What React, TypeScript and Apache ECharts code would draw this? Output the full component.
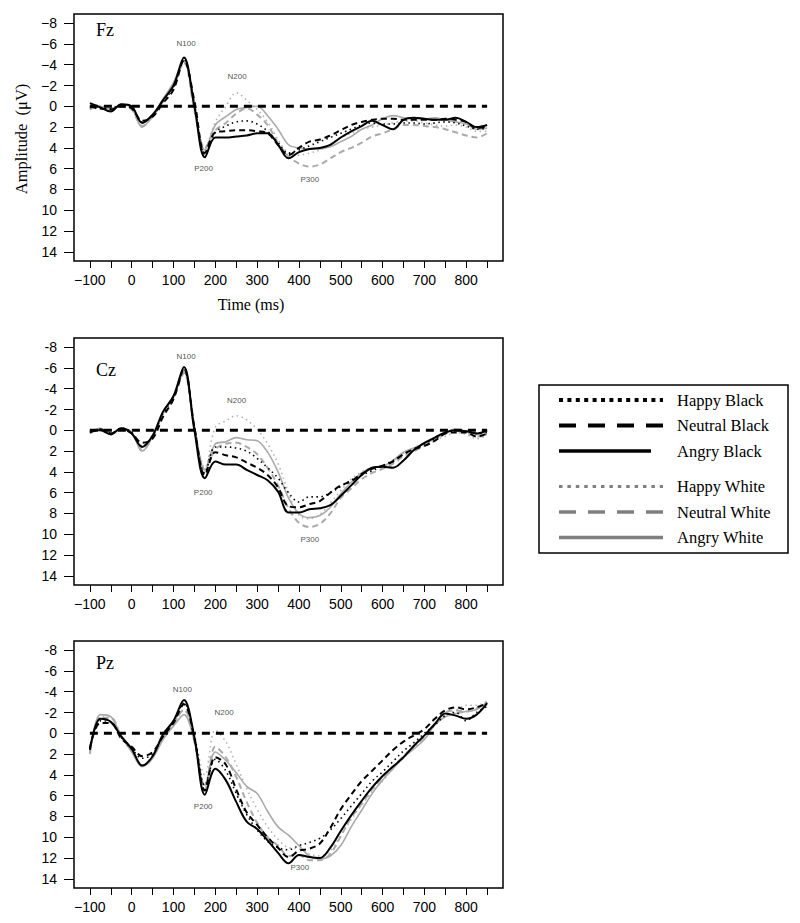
import React, { useEffect, useRef } from "react";
import * as echarts from "echarts";

const times = [-100, -75, -50, -25, 0, 25, 50, 75, 100, 125, 150, 175, 200, 225, 250, 275, 300, 325, 350, 375, 400, 425, 450, 475, 500, 525, 550, 575, 600, 625, 650, 675, 700, 725, 750, 775, 800, 825, 850];
const xTickValues = [-100, -50, 0, 50, 100, 150, 200, 250, 300, 350, 400, 450, 500, 550, 600, 650, 700, 750, 800, 850];
const xLabelValues = [-100, 0, 100, 200, 300, 400, 500, 600, 700, 800];
const yTickValues = [-8, -6, -4, -2, 0, 2, 4, 6, 8, 10, 12, 14];
const electrodes = ["Fz", "Cz", "Pz"];
const conditions = ["Happy Black", "Neutral Black", "Angry Black", "Happy White", "Neutral White", "Angry White"];

// Fz
const fzHappyBlack = [0.1, 0.2, 0.2, -0.1, 0.1, 1.5, 0.9, -0.5, -1.8, -4.5, -0.2, 4.6, 2.5, 1.9, 1.5, 1.4, 1.7, 2.4, 3.5, 4.5, 4.2, 3.8, 3.4, 3.0, 2.6, 2.2, 1.8, 1.6, 1.7, 1.7, 1.6, 1.6, 1.7, 1.6, 1.5, 1.6, 1.9, 2.2, 2.1];
const fzNeutralBlack = [0.0, 0.2, 0.3, 0.0, 0.2, 1.4, 1.0, -0.3, -1.6, -4.4, -0.5, 4.5, 2.5, 2.4, 2.3, 2.3, 2.4, 2.6, 3.7, 4.7, 4.0, 3.4, 3.2, 2.8, 2.3, 1.8, 1.5, 1.3, 1.2, 1.2, 1.3, 1.3, 1.3, 1.3, 1.2, 1.3, 1.5, 2.1, 1.9];
const fzAngryBlack = [-0.3, 0.1, 0.5, -0.2, 0.0, 1.6, 0.8, -0.6, -2.0, -4.7, 0.0, 4.9, 3.0, 3.0, 2.9, 2.8, 2.6, 2.6, 3.7, 5.0, 4.4, 4.1, 4.0, 3.7, 3.0, 2.4, 1.9, 1.4, 1.8, 2.2, 1.3, 1.1, 1.2, 1.3, 1.3, 1.1, 1.5, 2.0, 1.8];
const fzHappyWhite = [0.3, 0.0, 0.3, -0.1, 0.2, 2.0, 0.9, -0.6, -2.2, -4.3, 0.3, 4.0, 1.5, 0.0, -1.3, -0.6, 0.3, 1.5, 3.2, 4.5, 4.7, 4.5, 4.2, 3.6, 3.0, 2.6, 2.2, 2.0, 1.8, 1.6, 1.4, 1.4, 1.6, 1.8, 1.9, 1.8, 2.0, 2.4, 2.4];
const fzNeutralWhite = [0.2, 0.1, 0.2, 0.0, 0.3, 1.9, 1.0, -0.5, -2.1, -4.2, 0.4, 4.0, 2.3, 1.6, 0.7, 0.2, 0.8, 1.8, 3.5, 4.8, 5.5, 5.8, 5.6, 5.0, 4.4, 4.0, 3.5, 2.9, 2.6, 2.2, 1.8, 1.8, 1.9, 2.0, 2.2, 2.5, 2.8, 3.0, 2.6];
const fzAngryWhite = [0.3, 0.0, 0.3, -0.2, 0.2, 2.0, 0.9, -0.7, -2.3, -4.4, 0.3, 4.2, 1.8, 1.0, 0.3, 0.1, 0.0, 0.9, 2.2, 3.7, 4.0, 4.1, 4.1, 3.9, 3.4, 2.9, 2.2, 1.8, 1.2, 0.9, 1.1, 1.2, 1.2, 1.1, 1.3, 1.5, 1.7, 2.2, 2.1];

// Cz
const czHappyBlack = [0.1, 0.0, 0.3, -0.2, 0.2, 1.5, 0.6, -1.6, -3.2, -5.8, -0.3, 4.1, 1.6, 1.6, 1.7, 2.0, 2.7, 3.6, 4.6, 6.0, 6.9, 6.4, 6.4, 6.0, 5.4, 4.8, 4.3, 3.9, 3.4, 2.9, 2.3, 1.8, 1.3, 0.8, 0.3, 0.0, 0.1, 0.3, 0.2];
const czNeutralBlack = [0.2, -0.1, 0.3, -0.1, 0.3, 1.2, 0.8, -1.3, -3.0, -5.9, -0.3, 4.3, 2.1, 2.4, 2.6, 3.1, 3.6, 4.3, 5.5, 7.3, 7.4, 7.1, 6.8, 6.0, 5.3, 4.9, 4.2, 3.7, 3.4, 3.0, 2.3, 1.8, 1.5, 1.0, 0.3, 0.2, 0.2, 0.6, 0.3];
const czAngryBlack = [0.0, 0.0, 0.4, -0.2, 0.3, 1.6, 0.5, -1.8, -3.3, -6.1, 0.0, 4.6, 3.0, 3.3, 3.3, 3.8, 4.3, 4.8, 5.9, 7.9, 7.9, 7.6, 7.5, 7.2, 6.3, 5.3, 4.3, 3.6, 3.5, 3.6, 2.9, 1.9, 1.2, 0.7, 0.2, 0.0, 0.1, 0.3, 0.0];
const czHappyWhite = [0.3, -0.2, 0.3, -0.2, 0.2, 2.0, 0.6, -1.6, -3.2, -5.6, -0.3, 3.6, -0.3, -0.9, -1.4, -1.0, -0.1, 1.3, 3.2, 6.0, 8.2, 8.5, 8.1, 7.0, 5.8, 4.7, 4.0, 3.6, 3.4, 3.0, 2.2, 1.7, 1.2, 0.9, 0.6, 0.2, 0.4, 0.8, 0.5];
const czNeutralWhite = [0.3, -0.1, 0.3, -0.1, 0.2, 1.9, 0.7, -1.5, -3.1, -5.5, -0.2, 3.8, 1.8, 1.3, 1.2, 1.6, 2.3, 3.6, 5.3, 7.5, 8.9, 9.3, 9.0, 8.0, 6.5, 5.6, 4.7, 4.1, 3.7, 3.2, 2.5, 2.0, 1.5, 1.0, 0.3, -0.1, 0.2, 0.6, 0.5];
const czAngryWhite = [0.3, -0.2, 0.3, -0.2, 0.2, 2.0, 0.6, -1.7, -3.3, -5.6, -0.3, 3.8, 1.3, 1.1, 0.7, 0.9, 1.0, 2.1, 4.0, 6.5, 8.0, 8.4, 8.2, 7.4, 6.1, 5.0, 4.1, 3.6, 3.5, 2.9, 2.1, 1.7, 1.3, 0.8, 0.3, -0.1, 0.1, 0.4, 0.4];

// Pz
const pzHappyBlack = [1.5, -1.2, -1.1, 0.4, 1.5, 2.4, 2.0, 0.2, -1.2, -2.9, 0.2, 5.0, 2.5, 3.6, 5.8, 7.8, 9.3, 10.4, 11.0, 11.2, 10.8, 10.5, 10.1, 9.3, 8.2, 7.0, 5.8, 4.6, 3.7, 2.7, 1.7, 0.9, 0.0, -0.8, -1.7, -2.0, -1.2, -2.0, -2.6];
const pzNeutralBlack = [1.4, -1.0, -1.0, 0.5, 1.3, 2.2, 1.8, 0.3, -1.0, -2.8, 0.5, 5.5, 2.3, 3.0, 5.4, 7.6, 8.8, 10.0, 11.0, 11.9, 11.3, 11.1, 10.6, 9.1, 7.3, 5.9, 4.6, 3.6, 2.6, 1.6, 0.8, 0.2, -0.4, -1.4, -2.2, -2.5, -2.3, -2.5, -2.9];
const pzAngryBlack = [1.6, -1.4, -1.1, 0.3, 1.5, 3.1, 2.2, 0.1, -1.2, -3.2, 0.4, 5.9, 3.4, 4.5, 6.6, 8.5, 9.2, 10.3, 11.5, 12.5, 11.7, 11.9, 12.0, 11.0, 9.4, 7.9, 6.5, 5.2, 4.1, 3.2, 2.3, 1.2, 0.2, -0.9, -1.9, -1.7, -1.4, -1.8, -2.9];
const pzHappyWhite = [1.8, -1.6, -1.5, 0.2, 1.7, 3.2, 2.3, 0.5, -0.9, -2.2, 0.5, 4.0, -0.3, 0.8, 3.0, 5.3, 7.3, 9.0, 10.2, 11.0, 11.1, 11.6, 11.8, 11.3, 9.8, 8.3, 6.9, 5.6, 4.6, 3.4, 2.4, 1.4, 0.4, -0.9, -1.8, -2.2, -2.7, -2.7, -3.1];
const pzNeutralWhite = [1.9, -1.5, -1.5, 0.3, 1.6, 3.1, 2.2, 0.4, -0.9, -2.3, 0.8, 5.4, 1.3, 2.3, 4.2, 6.6, 8.6, 10.0, 10.8, 11.8, 11.7, 12.2, 12.2, 11.6, 9.9, 8.1, 6.8, 5.4, 4.3, 3.2, 2.2, 1.2, 0.4, -0.9, -2.0, -2.2, -2.1, -2.4, -3.0];
const pzAngryWhite = [2.0, -1.8, -1.6, 0.3, 1.8, 3.2, 2.4, 0.6, -0.7, -1.8, 0.8, 5.0, 1.8, 2.6, 3.8, 5.1, 5.8, 7.5, 9.0, 9.8, 10.8, 11.8, 12.1, 11.8, 10.8, 9.0, 7.4, 5.8, 4.5, 3.4, 2.3, 1.5, 0.6, -0.8, -1.6, -1.9, -2.1, -2.3, -3.0];

// peak annotations
const peakNames = ["N100", "N200", "P200", "P300"];
const fzPeakTimes = [130, 252, 172, 426];
const fzPeakAmps = [-6.0, -2.9, 6.0, 7.0];
const czPeakTimes = [130, 251, 171, 426];
const czPeakAmps = [-7.1, -2.9, 6.0, 10.5];
const pzPeakTimes = [121, 221, 171, 402];
const pzPeakAmps = [-4.2, -2.0, 7.0, 12.9];

const panelSeries = [
  [fzHappyBlack, fzNeutralBlack, fzAngryBlack, fzHappyWhite, fzNeutralWhite, fzAngryWhite],
  [czHappyBlack, czNeutralBlack, czAngryBlack, czHappyWhite, czNeutralWhite, czAngryWhite],
  [pzHappyBlack, pzNeutralBlack, pzAngryBlack, pzHappyWhite, pzNeutralWhite, pzAngryWhite],
];
const panelPeakTimes = [fzPeakTimes, czPeakTimes, pzPeakTimes];
const panelPeakAmps = [fzPeakAmps, czPeakAmps, pzPeakAmps];

const SANS = "'Liberation Sans', Arial, Helvetica, sans-serif";
const SERIF = "'Liberation Serif', 'Times New Roman', serif";

const plotStyles = [
  { color: "#000", width: 1.6, type: [1.5, 3.5] },
  { color: "#000", width: 2, type: [6, 4] },
  { color: "#000", width: 2, type: "solid" },
  { color: "#b4b4b4", width: 1.6, type: [1.5, 3.5] },
  { color: "#aaaaaa", width: 2, type: [6, 4] },
  { color: "#aaaaaa", width: 1.6, type: "solid" },
];
const legendStyles = [
  { color: "#000", width: 4, dash: [4, 4.4], end: 663 },
  { color: "#000", width: 4, dash: [17, 12], end: 663 },
  { color: "#000", width: 3.5, dash: null, end: 651 },
  { color: "#808080", width: 3, dash: [3.5, 4.9], end: 663 },
  { color: "#808080", width: 3.5, dash: [17, 12], end: 663 },
  { color: "#808080", width: 3.5, dash: null, end: 663 },
];

const gridTops = [14, 338, 641];
const order = [3, 4, 5, 0, 1, 2];

export default function App() {
  const ref = useRef<HTMLDivElement>(null);
  useEffect(() => {
    if (!ref.current) return;
    const chart = echarts.init(ref.current, null, { renderer: "svg" });

    const grids = gridTops.map((top) => ({
      left: 74, top, width: 429, height: 247, show: true,
      borderColor: "#000", borderWidth: 1.5, backgroundColor: "transparent",
    }));
    const xAxes = gridTops.map((_, p) => ({
      type: "value", gridIndex: p, min: -138, max: 888, position: "bottom",
      axisLine: { show: false, onZero: false }, splitLine: { show: false },
      axisTick: { show: true, customValues: xTickValues, length: 7, lineStyle: { color: "#000", width: 1 } },
      axisLabel: {
        customValues: xLabelValues, margin: 12, fontSize: 14, color: "#000", fontFamily: SANS,
        formatter: (v: number) => String(v).replace("-", "\u2212"),
      },
    }));
    const yAxes = gridTops.map((_, p) => ({
      type: "value", gridIndex: p, min: -8.88, max: 14.88, inverse: true, position: "left",
      axisLine: { show: false, onZero: false }, splitLine: { show: false },
      axisTick: { show: true, customValues: yTickValues, length: 10, lineStyle: { color: "#000", width: 1 } },
      axisLabel: {
        customValues: yTickValues, margin: 17, fontSize: 14, color: "#000", fontFamily: SANS,
        formatter: (v: number) => (p === 0 ? String(v).replace("-", "\u2212") : String(v)),
      },
    }));

    const series: any[] = [];
    panelSeries.forEach((sets, p) => {
      order.forEach((c) => {
        const st = plotStyles[c];
        series.push({
          type: "line", name: conditions[c], xAxisIndex: p, yAxisIndex: p,
          data: times.map((t, i) => [t, sets[c][i]]),
          showSymbol: false, symbol: "none", smooth: 0.35, silent: true,
          lineStyle: { color: st.color, width: st.width, type: st.type },
          z: c < 3 ? 3 : 2,
        });
      });
      series.push({
        type: "line", name: "zero", xAxisIndex: p, yAxisIndex: p,
        data: [[times[0], 0], [times[times.length - 1], 0]],
        showSymbol: false, symbol: "none", silent: true,
        lineStyle: { color: "#000", width: 3, type: [8, 6] }, z: 4,
      });
      series.push({
        type: "scatter", name: "peaks", xAxisIndex: p, yAxisIndex: p,
        data: peakNames.map((n, i) => [panelPeakTimes[p][i], panelPeakAmps[p][i], n]),
        symbolSize: 1, itemStyle: { color: "rgba(0,0,0,0)" }, silent: true,
        label: {
          show: true, position: "inside", formatter: (q: any) => q.data[2],
          fontSize: 8, color: "#222", fontFamily: SANS, textBorderWidth: 0, textShadowBlur: 0,
        },
        z: 5,
      });
    });

    const graphic: any[] = [];
    const titleYs = [30, 370, 663];
    electrodes.forEach((e, p) => {
      graphic.push({
        type: "text", x: 96, y: titleYs[p],
        style: { text: e, font: `18px ${SERIF}`, fill: "#000", textVerticalAlign: "middle" },
      });
    });
    graphic.push({
      type: "text", x: 251, y: 304,
      style: { text: "Time (ms)", font: `16px ${SERIF}`, fill: "#000", textAlign: "center", textVerticalAlign: "middle" },
    });
    graphic.push({
      type: "text", x: 21, y: 139, rotation: Math.PI / 2,
      style: { text: "Amplitude  (\u03bcV)", font: `16.5px ${SERIF}`, fill: "#000", textAlign: "center", textVerticalAlign: "middle" },
    });
    graphic.push({
      type: "rect", shape: { x: 539, y: 385, width: 249, height: 168 },
      style: { fill: "#fff", stroke: "#000", lineWidth: 1.5 },
    });
    conditions.forEach((name, i) => {
      const y = 400 + i * 25.5 + (i >= 3 ? 10 : 0);
      const ls = legendStyles[i];
      graphic.push({
        type: "line", shape: { x1: 559, y1: y, x2: ls.end, y2: y },
        style: { stroke: ls.color, lineWidth: ls.width, lineDash: ls.dash || undefined },
      });
      graphic.push({
        type: "text", x: 677, y,
        style: { text: name, font: `16.5px ${SERIF}`, fill: "#000", textVerticalAlign: "middle" },
      });
    });

    chart.setOption({
      animation: false,
      backgroundColor: "#fff",
      grid: grids,
      xAxis: xAxes,
      yAxis: yAxes,
      series,
      graphic,
    });
    return () => chart.dispose();
  }, []);
  return <div ref={ref} style={{ position: "absolute", left: 0, top: 0, width: 800, height: 923 }} />;
}
